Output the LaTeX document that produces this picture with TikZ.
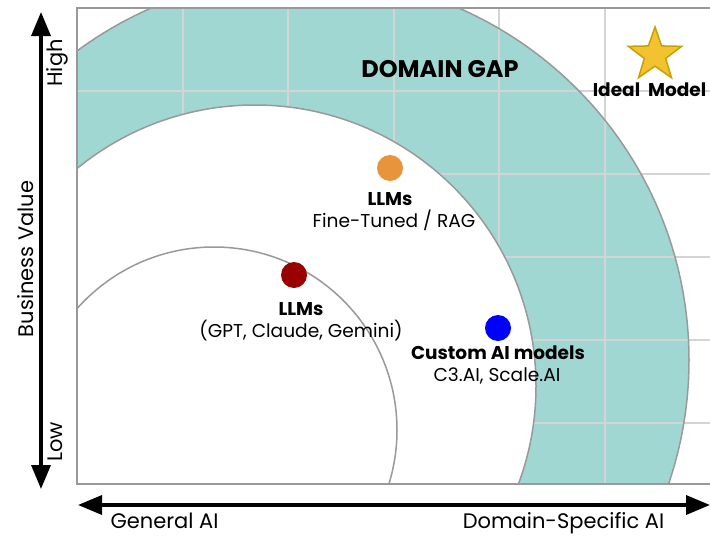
\documentclass[tikz,border=0pt]{standalone}
\usepackage{fontspec}
\setmainfont{Poppins}
\usetikzlibrary{arrows.meta,shapes.geometric}
\definecolor{tealfill}{RGB}{161,215,210}
\definecolor{gridc}{RGB}{212,212,212}
\definecolor{circc}{RGB}{153,153,153}
\definecolor{orangedot}{RGB}{232,148,58}
\definecolor{reddot}{RGB}{153,0,0}
\definecolor{bluedot}{RGB}{0,0,255}
\definecolor{stargold}{RGB}{242,194,48}
\definecolor{staredge}{RGB}{200,160,0}
\begin{document}
\begin{tikzpicture}[x=1pt,y=-1pt,
  ring/.style={draw=circc,line width=1.5pt},
  gridline/.style={draw=gridc,line width=2pt},
  dot/.style={circle,minimum size=26pt,inner sep=0pt},
  boldlabel/.style={font=\bfseries\fontsize{18.5}{20}\selectfont,anchor=base,inner sep=0pt},
  sublabel/.style={font=\fontsize{18.6}{20}\selectfont,anchor=base,inner sep=0pt},
  axisarrow/.style={line width=3.5pt,{Triangle[length=24pt,width=19pt]}-{Triangle[length=24pt,width=19pt]}},
  axislabel/.style={font=\fontsize{21}{23}\selectfont,anchor=base,inner sep=0pt}
]
\useasboundingbox (0,0) rectangle (710,536);
\begin{scope}
  \clip (77,8) rectangle (710,484);
  \fill[tealfill] (305,360) circle[radius=384pt];
  \foreach \x in {182.6,288.2,393.8,499.4,605} \draw[gridline] (\x,8) -- (\x,484);
  \foreach \y in {90.5,174,257,340,423} \draw[gridline] (77,\y) -- (710,\y);
  \draw[ring] (305,360) circle[radius=384pt];
  \draw[ring,fill=white] (255,386) circle[radius=281pt];
  \draw[ring] (214,430) circle[radius=183pt];
\end{scope}
\draw[draw=circc,line width=2pt] (710,8) -- (77,8) -- (77,484) -- (710,484);
% axes
\coordinate (ytop) at (41,12);
\coordinate (ybot) at (41,489);
\coordinate (xleft) at (78,505);
\coordinate (xright) at (710,505);
\draw[axisarrow] (ybot) -- (ytop);
\draw[axisarrow] (xleft) -- (xright);
\node[axislabel,rotate=90] (high) at (62,63) {High};
\node[axislabel,rotate=90] (low) at (62,442) {Low};
\node[axislabel,rotate=90] (bv) at (33,259) {Business Value};
\node[axislabel] (gen) at (164.5,528) {General AI};
\node[axislabel] (dom) at (563.5,528) {Domain-Specific AI};
% title
\node[font=\bfseries\fontsize{24}{26}\selectfont,anchor=base,inner sep=0pt] (gap) at (440,77) {DOMAIN GAP};
% star
\node[star,star points=5,star point ratio=2.5,minimum size=56pt,inner sep=0pt,fill=stargold,draw=staredge,line width=1.5pt] (star) at (655,55) {};
\node[boldlabel] (ideal) at (649.5,96) {Ideal\ \ Model};
% points
\node[dot,fill=orangedot] (ft) at (390,168) {};
\node[boldlabel] (ftl) at (390,205) {LLMs};
\node[sublabel] (fts) at (394,227) {Fine-Tuned / RAG};
\node[dot,fill=reddot] (gp) at (294,275) {};
\node[boldlabel] (gpl) at (301,315) {LLMs};
\node[sublabel] (gps) at (301,337) {(GPT, Claude, Gemini)};
\node[dot,fill=bluedot] (cu) at (498,328) {};
\node[boldlabel] (cul) at (498,359) {Custom AI models};
\node[sublabel] (cus) at (497,381) {C3.AI, Scale.AI};
\end{tikzpicture}
\end{document}
